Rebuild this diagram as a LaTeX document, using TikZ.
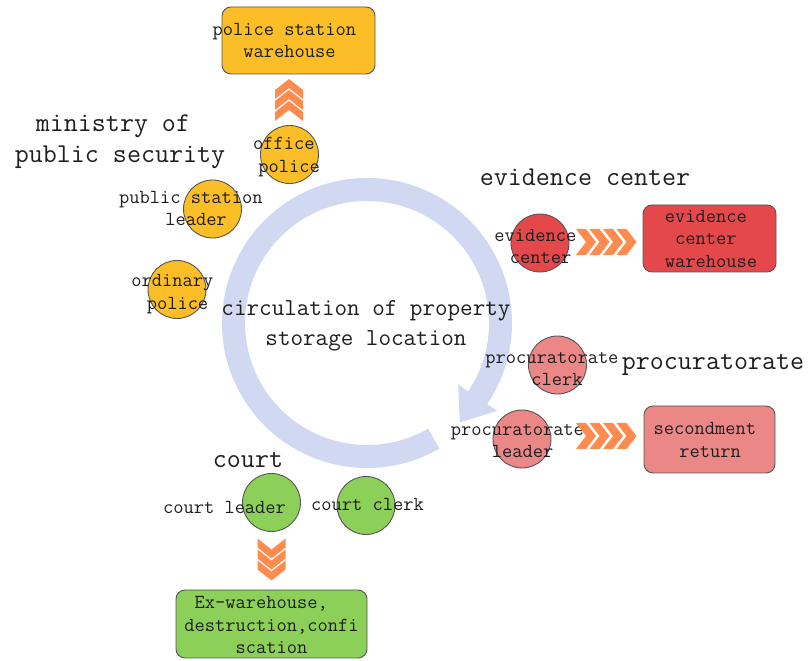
\documentclass[tikz,border=0pt]{standalone}
\usepackage{fontspec}
\definecolor{ringblue}{RGB}{208,217,241}
\definecolor{goldfill}{RGB}{252,190,38}
\definecolor{redfill}{RGB}{229,72,74}
\definecolor{pinkfill}{RGB}{235,135,135}
\definecolor{greenfill}{RGB}{140,208,90}
\definecolor{chevorange}{RGB}{255,140,78}
\definecolor{edgegray}{RGB}{85,85,85}
\definecolor{inkgray}{RGB}{30,30,30}
\tikzset{
  member/.style={circle, draw=edgegray, line width=0.9pt, minimum size=58pt, inner sep=0pt},
  store/.style={rectangle, rounded corners=9pt, draw=edgegray, line width=0.9pt, inner sep=0pt},
  smalltext/.style={font=\ttfamily\fontsize{19.9}{22.5}\selectfont, align=center, text=inkgray, inner sep=0pt},
  bigtext/.style={font=\ttfamily\fontsize{27.2}{31}\selectfont, align=center, text=inkgray, inner sep=0pt},
  midtext/.style={font=\ttfamily\fontsize{24.4}{30}\selectfont, align=center, text=inkgray, inner sep=0pt},
  chevrow/.pic={
    \foreach \i in {0,...,3}{
      \pgfmathsetmacro{\xo}{-30.5+13.5*\i}
      \fill[chevorange] (\xo,-13) -- (\xo+10,-13) -- (\xo+20,0) -- (\xo+10,13) -- (\xo,13) -- (\xo+10,0) -- cycle;
    }
  },
  chevcol/.pic={
    \foreach \i in {0,...,2}{
      \pgfmathsetmacro{\yo}{-21+11*\i}
      \fill[chevorange] (-14,\yo) -- (-14,\yo+9) -- (0,\yo+20) -- (14,\yo+9) -- (14,\yo) -- (0,\yo+11) -- cycle;
    }
  }
}
\begin{document}
\begin{tikzpicture}[x=1pt,y=1pt]
\useasboundingbox (0,0) rectangle (811,661);

% circular flow arrow around the central caption
\begin{scope}[shift={(367,338)}]
  \fill[ringblue] (-60:145pt) arc[start angle=-60, end angle=-394, radius=145pt]
    -- (-34:157pt) -- (-47:136pt) -- (-34:110pt) -- (-34:122pt)
    arc[start angle=-394, end angle=-60, radius=122pt] -- cycle;
\end{scope}
\node[midtext] (circ) at (366,335) {circulation of property\\storage location};

% ministry of public security
\node[store, fill=goldfill, minimum width=153pt, minimum height=67pt] (psw) at (298.5,620.5) {};
\node[smalltext] (pswt) at (289.5,620.5) {police station\hphantom{x}\\warehouse};
\node[member, fill=goldfill] (op) at (289.5,506.5) {};
\node[smalltext] (opt) at (289,504) {office\hphantom{x}\\police};
\node[member, fill=goldfill] (psl) at (212.5,452) {};
\node[smalltext] (pslt) at (196,452.5) {public station\hphantom{x}\\leader};
\node[member, fill=goldfill] (orp) at (177,371.5) {};
\node[smalltext] (orpt) at (177.5,367) {ordinary\hphantom{x}\\police};
\node[bigtext] (mps) at (120,519.5) {ministry of\hphantom{x}\\public security};
\pic at (289,561) {chevcol};

% evidence center
\node[bigtext] (ecl) at (585,484) {evidence center};
\node[member, fill=redfill] (ec) at (540,418) {};
\node[smalltext] (ect) at (540.5,414.5) {evidence\hphantom{x}\\center};
\node[store, fill=redfill, minimum width=133pt, minimum height=67pt] (ecw) at (709.5,422.5) {};
\node[smalltext] (ecwt) at (711,422.5) {evidence\hphantom{x}\\center\hphantom{x}\\warehouse};
\pic at (606.5,419) {chevrow};

% procuratorate
\node[bigtext] (prl) at (713,296) {procuratorate};
\node[member, fill=pinkfill] (pc) at (557.5,296) {};
\node[smalltext] (pct) at (557,292) {procuratorate\hphantom{x}\\clerk};
\node[member, fill=pinkfill] (pl) at (522,222) {};
\node[smalltext] (plt) at (522.5,220) {procuratorate\hphantom{x}\\leader};
\node[store, fill=pinkfill, minimum width=131pt, minimum height=67pt] (sr) at (709.5,221.5) {};
\node[smalltext] (srt) at (710,221) {secondment\hphantom{x}\\return};
\pic at (606.5,225) {chevrow};

% court
\node[bigtext] (crl) at (248,201) {court};
\node[member, fill=greenfill] (cl) at (271.5,158.5) {};
\node[smalltext] (clt) at (224.5,154) {court leader};
\node[member, fill=greenfill] (cc) at (366,155.5) {};
\node[smalltext] (cct) at (367.5,157) {court clerk};
\node[store, fill=greenfill, minimum width=191pt, minimum height=68pt] (exw) at (271.5,37) {};
\node[smalltext] (exwt) at (271.5,36) {Ex-warehouse,\hphantom{xx}\\destruction,confi\\scation};
\pic[rotate=180] at (271.5,101.5) {chevcol};
\end{tikzpicture}
\end{document}
